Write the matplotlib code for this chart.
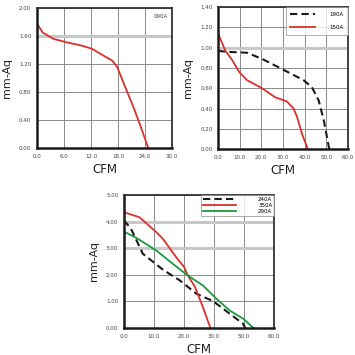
import matplotlib
matplotlib.use("Agg")
import matplotlib.pyplot as plt

# Chart 1 (090A)
x_090 = [0, 1.3, 3.7, 6.7, 9.6, 12.2, 14.8, 16.7, 17.8, 19.6, 21.5, 23.0, 24.7]
y_090 = [1.78, 1.65, 1.56, 1.51, 1.47, 1.42, 1.32, 1.25, 1.16, 0.87, 0.57, 0.31, 0.0]
xt1 = [0, 6, 12, 18, 24, 30]
xl1 = ["0.0", "6.0", "12.0", "18.0", "24.0", "30.0"]
yt1 = [0, 0.4, 0.8, 1.2, 1.6, 2.0]
yl1 = ["0.00", "0.40", "0.80", "1.20", "1.60", "2.00"]

# Chart 2 (190A, 150A)
x_190 = [0, 3.4, 13.4, 20.3, 29.5, 39.5, 43.4, 46.5, 48.8, 51.4]
y_190 = [0.97, 0.96, 0.95, 0.89, 0.79, 0.68, 0.61, 0.48, 0.29, 0.0]
x_150 = [0, 3.4, 6.5, 9.8, 13.4, 20.3, 26.5, 31.8, 34.9, 36.5, 38.8, 41.5]
y_150 = [1.14, 0.97, 0.88, 0.76, 0.68, 0.60, 0.51, 0.47, 0.40, 0.32, 0.15, 0.0]
xt2 = [0, 10, 20, 30, 40, 50, 60]
xl2 = ["0.0", "10.0", "20.0", "30.0", "40.0", "50.0", "60.0"]
yt2 = [0, 0.2, 0.4, 0.6, 0.8, 1.0, 1.2, 1.4]
yl2 = ["0.00", "0.20", "0.40", "0.60", "0.80", "1.00", "1.20", "1.40"]

# Chart 3 (240A, 350A, 290A)
x_240 = [0, 2.4, 6.3, 13.0, 18.6, 24.1, 29.7, 35.2, 39.7, 40.4]
y_240 = [4.05, 3.72, 2.79, 2.19, 1.79, 1.29, 1.01, 0.54, 0.16, 0.0]
x_350 = [0, 5.2, 10.8, 13.0, 17.4, 20.0, 21.3, 23.6, 26.3, 28.8]
y_350 = [4.35, 4.16, 3.60, 3.35, 2.66, 2.30, 1.97, 1.56, 0.79, 0.0]
x_290 = [0, 4.1, 10.8, 16.3, 21.3, 26.3, 30.8, 35.2, 39.7, 43.2]
y_290 = [3.62, 3.39, 2.91, 2.41, 1.97, 1.60, 1.10, 0.66, 0.35, 0.0]
xt3 = [0, 10, 20, 30, 40, 50]
xl3 = ["0.0", "10.0", "20.0", "30.0", "50.0", "60.0"]
yt3 = [0, 1, 2, 3, 4, 5]
yl3 = ["0.00", "1.00", "2.00", "3.00", "4.00", "5.00"]

RED = "#d9312b"
GREEN = "#1a9a3c"

fig = plt.figure(figsize=(3.55, 3.55), dpi=100)
fig.patch.set_facecolor("white")


def style(ax, xt, xl, yt, yl, thick_rows):
    ax.set_xlim(xt[0], xt[-1])
    ax.set_ylim(yt[0], yt[-1])
    ax.set_xticks(xt)
    ax.set_xticklabels(xl)
    ax.set_yticks(yt)
    ax.set_yticklabels(yl)
    ax.tick_params(labelsize=4, colors="#444444", length=0, pad=4)
    ax.grid(True, color="#8a8a8a", linewidth=0.7)
    for i, gl in enumerate(ax.yaxis.get_gridlines()):
        if i in thick_rows:
            gl.set_color("#c8c8c8")
            gl.set_linewidth(2.2)
    for s in ["left", "bottom"]:
        ax.spines[s].set_linewidth(1.8)
        ax.spines[s].set_color("#1a1a1a")
    for s in ["top", "right"]:
        ax.spines[s].set_linewidth(1.3)
        ax.spines[s].set_color("#333333")
    ax.set_axisbelow(True)
    ax.set_xlabel("CFM", fontsize=8.5, color="#222222", labelpad=3)
    ax.set_ylabel("mm-Aq", fontsize=8, color="#222222", labelpad=5)


ax1 = fig.add_axes([0.104, 0.583, 0.381, 0.394])
ax1.plot(x_090, y_090, color=RED, lw=1.3)
style(ax1, xt1, xl1, yt1, yl1, thick_rows=[4])
ax1.text(0.97, 0.96, "090A", transform=ax1.transAxes, ha="right", va="top",
         fontsize=4, color="#444444")

ax2 = fig.add_axes([0.614, 0.580, 0.366, 0.400])
ax2.plot(x_190, y_190, color="#1a1a1a", lw=1.5, dashes=(3.5, 2), label="190A")
ax2.plot(x_150, y_150, color=RED, lw=1.3, label="150A")
style(ax2, xt2, xl2, yt2, yl2, thick_rows=[5])
leg2 = ax2.legend(loc="upper right", fontsize=4, frameon=True, fancybox=False,
                  handlelength=4.5, borderpad=0.8, labelspacing=1.6,
                  handletextpad=2.5, borderaxespad=0.0)
leg2.get_frame().set_edgecolor("#888888")
leg2.get_frame().set_linewidth(0.6)

ax3 = fig.add_axes([0.349, 0.076, 0.423, 0.375])
ax3.plot(x_240, y_240, color="#1a1a1a", lw=1.5, dashes=(3.5, 2), label="240A")
ax3.plot(x_350, y_350, color=RED, lw=1.3, label="350A")
ax3.plot(x_290, y_290, color=GREEN, lw=1.3, label="290A")
style(ax3, xt3, xl3, yt3, yl3, thick_rows=[3, 4])
leg3 = ax3.legend(loc="upper right", fontsize=4, frameon=True, fancybox=False,
                  handlelength=6, borderpad=0.3, labelspacing=0.25,
                  handletextpad=4, borderaxespad=0.0)
leg3.get_frame().set_edgecolor("#888888")
leg3.get_frame().set_linewidth(0.6)

fig.savefig("out.png", dpi=100, facecolor="white")
